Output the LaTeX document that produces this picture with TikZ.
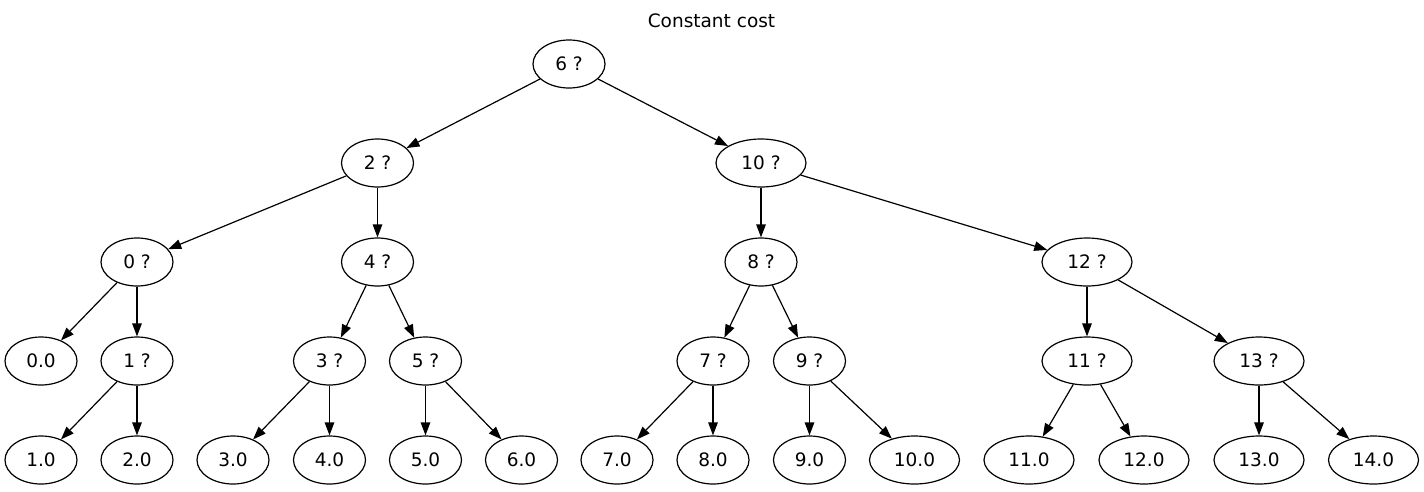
\documentclass[tikz,border=0pt]{standalone}
\usepackage{fontspec}
\setmainfont{DejaVu Sans}
\usetikzlibrary{arrows.meta,shapes.geometric}
\begin{document}
\begin{tikzpicture}[x=1pt,y=-1pt,
  every node/.style={font=\fontsize{18.5}{22}\selectfont},
  nd/.style={draw, ellipse, line width=1.2pt, inner sep=0pt, minimum width=72pt, minimum height=48pt},
  wide/.style={nd, minimum width=90pt},
  edge/.style={line width=1.2pt, -{Triangle[length=13pt,width=9.5pt]}}]
\fill[white] (0,0) rectangle (1424,491);
\useasboundingbox (0,0) rectangle (1424,491);
\node[anchor=base] (title) at (711.5,27) {Constant cost};
% internal nodes
\node[nd] (q6) at (569,64) {6 ?};
\node[nd] (q2) at (377.5,163) {2 ?};
\node[wide] (q10) at (761,163) {10 ?};
\node[nd] (q0) at (137,262) {0 ?};
\node[nd] (q4) at (377.5,262) {4 ?};
\node[nd] (q8) at (761,262) {8 ?};
\node[wide] (q12) at (1087,262) {12 ?};
\node[nd] (q1) at (137,361) {1 ?};
\node[nd] (q3) at (329.5,361) {3 ?};
\node[nd] (q5) at (425.5,361) {5 ?};
\node[nd] (q7) at (713,361) {7 ?};
\node[nd] (q9) at (809.5,361) {9 ?};
\node[wide] (q11) at (1087,361) {11 ?};
\node[wide] (q13) at (1259,361) {13 ?};
% leaves
\node[nd] (l0) at (41,361) {0.0};
\node[nd] (l1) at (41,460) {1.0};
\node[nd] (l2) at (137,460) {2.0};
\node[nd] (l3) at (233,460) {3.0};
\node[nd] (l4) at (329.5,460) {4.0};
\node[nd] (l5) at (425.5,460) {5.0};
\node[nd] (l6) at (521.5,460) {6.0};
\node[nd] (l7) at (617,460) {7.0};
\node[nd] (l8) at (713,460) {8.0};
\node[nd] (l9) at (809.5,460) {9.0};
\node[wide] (l10) at (914.5,460) {10.0};
\node[wide] (l11) at (1029,460) {11.0};
\node[wide] (l12) at (1144,460) {12.0};
\node[wide] (l13) at (1259,460) {13.0};
\node[wide] (l14) at (1373.5,460) {14.0};
% edges
\draw[edge] (q6) -- (q2);
\draw[edge] (q6) -- (q10);
\draw[edge] (q2) -- (q0);
\draw[edge] (q2) -- (q4);
\draw[edge] (q10) -- (q8);
\draw[edge] (q10) -- (q12);
\draw[edge] (q0) -- (l0);
\draw[edge] (q0) -- (q1);
\draw[edge] (q4) -- (q3);
\draw[edge] (q4) -- (q5);
\draw[edge] (q8) -- (q7);
\draw[edge] (q8) -- (q9);
\draw[edge] (q12) -- (q11);
\draw[edge] (q12) -- (q13);
\draw[edge] (q1) -- (l1);
\draw[edge] (q1) -- (l2);
\draw[edge] (q3) -- (l3);
\draw[edge] (q3) -- (l4);
\draw[edge] (q5) -- (l5);
\draw[edge] (q5) -- (l6);
\draw[edge] (q7) -- (l7);
\draw[edge] (q7) -- (l8);
\draw[edge] (q9) -- (l9);
\draw[edge] (q9) -- (l10);
\draw[edge] (q11) -- (l11);
\draw[edge] (q11) -- (l12);
\draw[edge] (q13) -- (l13);
\draw[edge] (q13) -- (l14);
\end{tikzpicture}
\end{document}
